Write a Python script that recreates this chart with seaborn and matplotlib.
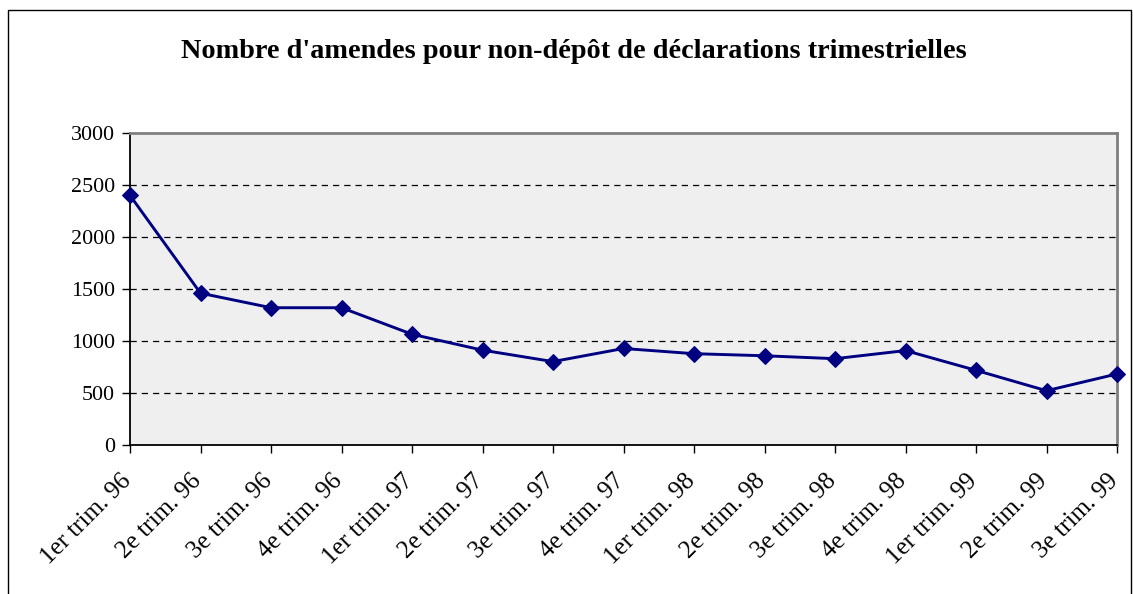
import pandas as pd
import matplotlib.pyplot as plt
import matplotlib.patches as mpatches
import matplotlib.transforms as mtransforms
import seaborn as sns

# Quarter labels and fine counts
quarters = ["1er trim. 96", "2e trim. 96", "3e trim. 96", "4e trim. 96",
            "1er trim. 97", "2e trim. 97", "3e trim. 97", "4e trim. 97",
            "1er trim. 98", "2e trim. 98", "3e trim. 98", "4e trim. 98",
            "1er trim. 99", "2e trim. 99", "3e trim. 99"]
amendes = [2400, 1460, 1320, 1320, 1065, 912, 802, 928,
           878, 858, 830, 908, 718, 522, 683]
y_ticks = [0, 500, 1000, 1500, 2000, 2500, 3000]

df = pd.DataFrame({"Trimestre": quarters, "Amendes": amendes})
df["pos"] = range(len(df))

sns.set_style("white")
plt.rcParams["font.family"] = ["Liberation Serif", "DejaVu Serif"]
plt.rcParams["text.color"] = "black"
plt.rcParams["xtick.color"] = "black"
plt.rcParams["ytick.color"] = "black"

fig = plt.figure(figsize=(11.33, 5.94), dpi=100)
ax = fig.add_axes([130 / 1133, 1 - 445 / 594, (1117 - 130) / 1133, (445 - 133) / 594])
ax.set_facecolor("#efefef")

sns.lineplot(data=df, x="pos", y="Amendes", ax=ax, color="#000080",
             linewidth=2.1, marker="D", markersize=8.5, markeredgecolor="#000080",
             clip_on=False, zorder=5)

ax.set_xlim(0, len(quarters) - 1)
ax.set_ylim(0, 3000)
ax.set_yticks(y_ticks)
ax.set_yticklabels([str(v) for v in y_ticks], fontsize=15.8)
ax.set_xticks(df["pos"])
ax.set_xticklabels([])
ax.set_xlabel("")
ax.set_ylabel("")

# rotated quarter labels, placed so their ends sit under the ticks
lab_tr = ax.get_xaxis_transform() + mtransforms.ScaledTranslation(-0.10, -0.25, fig.dpi_scale_trans)
for p, q in zip(df["pos"], df["Trimestre"]):
    ax.text(p, 0, q, transform=lab_tr, fontsize=18, rotation=45,
            rotation_mode="anchor", ha="right", va="top", clip_on=False)

for v in y_ticks[1:-1]:
    ax.axhline(v, color="black", linestyle=(0, (5, 4)), linewidth=0.9, zorder=1)

ax.tick_params(axis="both", which="both", direction="out", length=6, width=1,
               color="black", left=True, bottom=True)
ax.tick_params(axis="y", pad=5)
for side in ["left", "bottom"]:
    ax.spines[side].set_color("black")
    ax.spines[side].set_linewidth(1.3)
for side in ["top", "right"]:
    ax.spines[side].set_visible(True)
    ax.spines[side].set_color("#808080")
    ax.spines[side].set_linewidth(2)

fig.text(574 / 1133, 1 - 52 / 594,
         "Nombre d'amendes pour non-dépôt de déclarations trimestrielles",
         ha="center", va="center", fontsize=20.3, fontweight="bold")

# outer chart frame
fig.patches.append(mpatches.Rectangle((8 / 1133, -0.1), (1131 - 8) / 1133, 1.1 - 10 / 594,
                                      transform=fig.transFigure, fill=False,
                                      edgecolor="black", linewidth=1))

fig.savefig("out.png", dpi=100)
